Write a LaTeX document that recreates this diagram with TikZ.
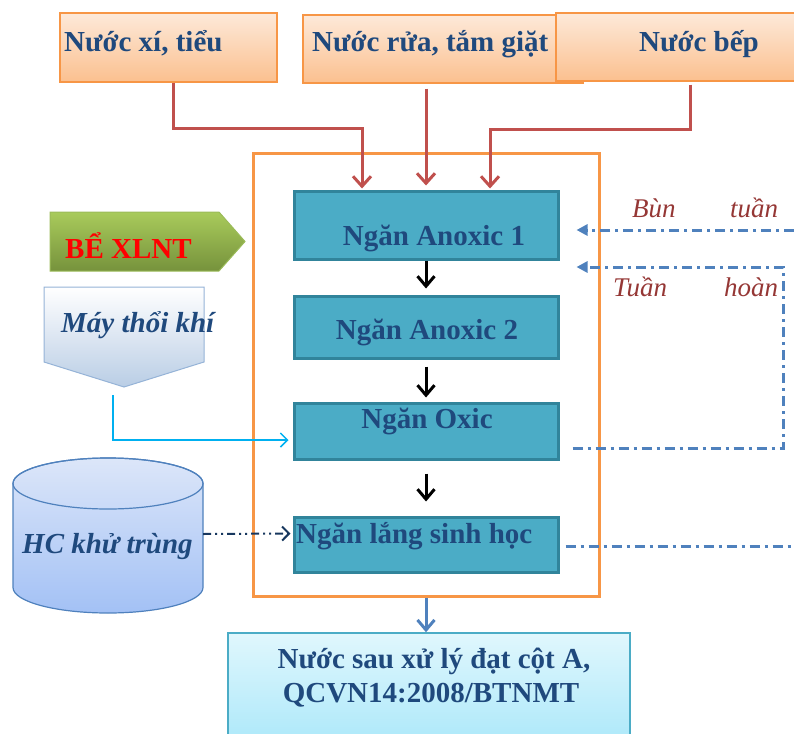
\documentclass[tikz,border=0pt]{standalone}
\usepackage{fontspec}
\setmainfont{Liberation Serif}
\usetikzlibrary{arrows.meta,calc}
\definecolor{boxborder}{HTML}{F79646}
\definecolor{peachtop}{HTML}{FDE9D9}
\definecolor{peachbot}{HTML}{FBC08F}
\definecolor{navytext}{HTML}{1F497D}
\definecolor{redline}{HTML}{C0504D}
\definecolor{tealfill}{HTML}{4BACC6}
\definecolor{tealdraw}{HTML}{31849B}
\definecolor{bluel}{HTML}{4F81BD}
\definecolor{cyanl}{HTML}{00B0F0}
\definecolor{navyl}{HTML}{17375E}
\definecolor{darkred}{HTML}{953735}
\definecolor{greentop}{HTML}{A9CB5B}
\definecolor{greenbot}{HTML}{76923C}
\definecolor{greendraw}{HTML}{9BBB59}
\definecolor{bluebot}{HTML}{B9CDE5}
\definecolor{bluedraw}{HTML}{95B3D7}
\definecolor{cyltop}{HTML}{DCE6F9}
\definecolor{cylbot}{HTML}{A3C1F5}
\definecolor{outtop}{HTML}{E0F7FD}
\definecolor{outbot}{HTML}{A5E6F9}
\begin{document}
\begin{tikzpicture}[x=1pt,y=-1pt,
  bigtext/.style={font=\fontsize{29}{32}\selectfont\bfseries, text=navytext, inner sep=0pt},
  srcbox/.style={draw=boxborder, line width=1.5pt, top color=peachtop, bottom color=peachbot, inner sep=0pt, minimum height=69pt},
  stagebox/.style={draw=tealdraw, fill=tealfill, line width=3pt, minimum width=264pt, inner sep=0pt},
  redarrow/.style={draw=redline, line width=3pt, -{Straight Barb[length=10pt,width=18pt]}},
  blackarrow/.style={draw=black, line width=3pt, -{Straight Barb[length=10pt,width=17pt]}},
  recirc/.style={draw=bluel, line width=3pt, dash pattern=on 10pt off 5pt on 3pt off 5pt},
  notetext/.style={font=\fontsize{27}{30}\selectfont\itshape, text=darkred, inner sep=0pt, anchor=base west}
]
\useasboundingbox (0,0) rectangle (794,733);

% source boxes
\node[srcbox, minimum width=217pt] (xi) at (168.5,47.5) {};
\node[bigtext, anchor=base west] (xiT) at (64,52) {Nước xí, tiểu};
\node[srcbox, minimum width=280pt, minimum height=68pt] (rua) at (443,49) {};
\node[bigtext, anchor=base west] (ruaT) at (312,52) {Nước rửa, tắm giặt};
\node[srcbox, minimum width=244pt, minimum height=68pt] (bep) at (678,47) {};
\node[bigtext, anchor=base west] (bepT) at (639,52) {Nước bếp};

% tank outline
\node[draw=boxborder, line width=3pt, minimum width=346pt, minimum height=443pt, inner sep=0pt] (tank) at (426,374.5) {};

% stages
\node[stagebox, minimum height=68pt] (a1) at (426,225) {};
\node[bigtext, anchor=base] (a1T) at (434,245) {Ngăn Anoxic 1};
\node[stagebox, minimum height=62pt] (a2) at (426,327) {};
\node[bigtext, anchor=base] (a2T) at (427,339) {Ngăn Anoxic 2};
\node[stagebox, minimum height=56pt] (ox) at (426,431) {};
\node[bigtext, anchor=base] (oxT) at (427,428) {Ngăn Oxic};
\node[stagebox, minimum height=55pt] (lang) at (426,544.5) {};
\node[bigtext, anchor=base west] (langT) at (296,543) {Ngăn lắng sinh học};

% red inflows
\draw[redarrow] (xi.south -| 173,0) |- (362,128) -- ([xshift=-64pt,yshift=1pt]a1.north);
\draw[redarrow] ([yshift=-5pt]rua.south -| a1.north) -- ([yshift=4pt]a1.north);
\draw[redarrow] ([yshift=-3pt]bep.south -| 690,0) |- (490,129) -- ([xshift=64pt,yshift=1pt]a1.north);

% black flow arrows
\draw[blackarrow] (a1.south) -- ([yshift=6pt]a2.north);
\draw[blackarrow] ([yshift=-7pt]a2.south) -- ([yshift=4pt]ox.north);
\draw[blackarrow] ([yshift=-13pt]ox.south) -- ([yshift=14pt]lang.north);

% outlet
\node[draw=tealfill, line width=1.5pt, top color=outtop, bottom color=outbot, minimum width=402pt, minimum height=127pt, inner sep=0pt] (out) at (429,696.5) {};
\node[bigtext, anchor=base] (outT1) at (434,668) {Nước sau xử lý đạt cột A,};
\node[bigtext, anchor=base] (outT2) at (431,702) {QCVN14:2008/BTNMT};
\draw[draw=bluel, line width=3pt, -{Straight Barb[length=10pt,width=17pt]}] (tank.south) -- (tank.south |- out.north);

% BE XLNT tag
\node[minimum width=195pt, minimum height=59pt, inner sep=0pt] (tag) at (147.5,241.5) {};
\path[draw=greendraw, line width=1pt, top color=greentop, bottom color=greenbot]
  (50,212) -- (219,212) -- (245,241.5) -- (219,271) -- (50,271) -- cycle;
\node[font=\fontsize{29}{32}\selectfont\bfseries, text=red, inner sep=0pt, anchor=base west] (tagT) at (65,258) {BỂ XLNT};

% blower
\node[minimum width=160pt, minimum height=100pt, inner sep=0pt] (blow) at (124,337) {};
\path[draw=bluedraw, line width=1pt, top color=white, bottom color=bluebot]
  (44,287) -- (204,287) -- (204,362) -- (124,387) -- (44,362) -- cycle;
\node[font=\fontsize{29}{32}\selectfont\bfseries\itshape, text=navytext, inner sep=0pt, anchor=base west] (blowT) at (61,332) {Máy thổi khí};
\coordinate (blowOut) at (113,395);
\draw[draw=cyanl, line width=1.5pt, -{Straight Barb[length=7pt,width=14pt]}] (blowOut) |- ([xshift=-4pt,yshift=-9pt]ox.west);

% disinfectant cylinder
\node[minimum width=190pt, minimum height=155pt, inner sep=0pt] (cyl) at (108,535.5) {};
\path[draw=bluel, line width=1.2pt, top color=cyltop, bottom color=cylbot]
  (13,483.5) -- (13,587.5) arc[start angle=180, end angle=360, x radius=95pt, y radius=25.5pt]
  -- (203,483.5) arc[start angle=0, end angle=180, x radius=95pt, y radius=25.5pt] -- cycle;
\draw[draw=bluel, line width=1.2pt] (108,483.5) ellipse[x radius=95pt, y radius=25.5pt];
\node[font=\fontsize{29}{32}\selectfont\bfseries\itshape, text=navytext, inner sep=0pt, anchor=base west] (cylT) at (22,553) {HC khử trùng};
\draw[draw=navyl, line width=2pt, dash pattern=on 8pt off 4pt on 2pt off 4pt on 2pt off 4pt, -{Straight Barb[length=7pt,width=14pt]}]
  ([yshift=1.5pt]cyl.east) -- ([xshift=-2pt,yshift=11pt]lang.west);

% recirculation lines
\coordinate (bunIn) at (794,230);
\draw[recirc, -{Triangle[length=11pt,width=11pt]}] (bunIn) -- ([xshift=17pt,yshift=-5pt]a1.east);
\coordinate (thTop) at (783,267);
\draw[recirc, -{Triangle[length=11pt,width=11pt]}] ([xshift=13pt,yshift=-17pt]ox.east) -| (thTop) -- ([xshift=17pt,yshift=-42pt]a1.east);
\coordinate (langOut) at (794,546);
\draw[recirc] ([xshift=6pt,yshift=-1.5pt]lang.east) -- (langOut);

\node[notetext] (bunT) at (632,217) {\makebox[146pt][s]{Bùn\hfill tuần}};
\node[notetext] (thT) at (613,296) {\makebox[165pt][s]{Tuần\hfill hoàn}};
\end{tikzpicture}
\end{document}
